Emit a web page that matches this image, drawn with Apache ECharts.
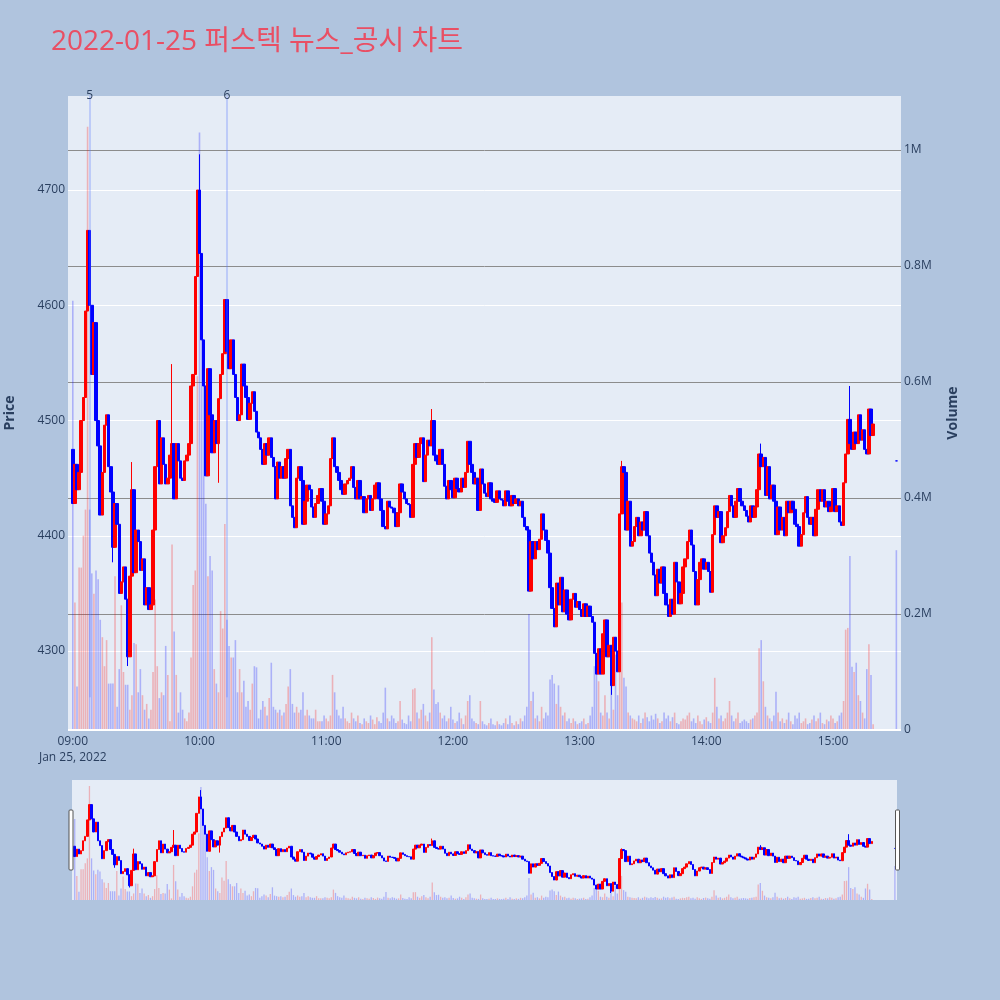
<!DOCTYPE html>
<html>
<head>
<meta charset="utf-8">
<script src="https://cdn.jsdelivr.net/npm/echarts@6/dist/echarts.min.js"></script>
<style>
html,body{margin:0;padding:0;background:#b0c4de;}
#chart{width:1000px;height:1000px;}
</style>
</head>
<body>
<div id="chart"></div>
<script>
// ---------------- data ----------------
const titleText = '2022-01-25 퍼스텍 뉴스_공시 차트';
const dateLabel = 'Jan 25, 2022';
const startHour = 9;                       // minute 0 = 09:00
const hourTicks = [0, 60, 120, 180, 240, 300, 360];
const firstOpen = 4475;
// one close per minute, 09:00 .. 15:19
const closes = [
4428,4462,4440,4455,4500,4520,4595,4665,4600,4540,
4585,4500,4478,4418,4455,4496,4505,4460,4438,4390,
4428,4410,4350,4360,4373,4345,4295,4365,4440,4368,
4405,4395,4370,4380,4340,4355,4336,4340,4405,4460,
4500,4445,4485,4462,4445,4450,4470,4480,4432,4480,
4465,4450,4448,4465,4470,4480,4530,4540,4625,4700,
4645,4570,4530,4452,4545,4505,4472,4500,4480,4519,
4540,4558,4605,4560,4545,4570,4540,4520,4500,4505,
4549,4530,4520,4501,4515,4525,4508,4490,4485,4475,
4462,4480,4470,4485,4468,4460,4432,4464,4450,4460,
4450,4467,4475,4426,4416,4407,4450,4460,4448,4410,
4430,4444,4440,4425,4416,4428,4435,4441,4430,4410,
4419,4426,4467,4485,4460,4455,4448,4440,4436,4445,
4448,4450,4460,4442,4432,4448,4432,4434,4420,4432,
4435,4422,4432,4444,4446,4432,4422,4408,4406,4430,
4425,4424,4420,4408,4420,4445,4438,4432,4428,4427,
4416,4462,4480,4468,4480,4485,4447,4470,4483,4478,
4500,4470,4465,4462,4475,4462,4443,4432,4448,4440,
4433,4450,4441,4438,4450,4442,4455,4482,4462,4455,
4445,4450,4422,4458,4445,4437,4434,4446,4432,4430,
4429,4439,4432,4431,4426,4439,4430,4426,4435,4428,
4432,4426,4430,4416,4408,4405,4352,4395,4380,4395,
4388,4397,4419,4405,4396,4385,4355,4337,4321,4359,
4340,4364,4334,4353,4332,4327,4345,4350,4338,4343,
4336,4330,4341,4330,4339,4330,4325,4298,4280,4302,
4280,4315,4327,4295,4305,4270,4312,4300,4282,4419,
4460,4455,4405,4430,4391,4395,4408,4416,4400,4412,
4405,4421,4400,4385,4377,4366,4348,4371,4359,4373,
4350,4340,4330,4345,4332,4377,4360,4341,4350,4373,
4380,4395,4405,4392,4369,4340,4362,4377,4380,4371,
4377,4369,4351,4401,4426,4416,4421,4394,4400,4407,
4421,4435,4426,4416,4430,4441,4430,4426,4422,4417,
4412,4426,4416,4425,4440,4471,4460,4468,4435,4460,
4432,4444,4430,4401,4425,4405,4416,4400,4430,4420,
4430,4423,4410,4408,4391,4401,4420,4434,4416,4410,
4416,4400,4423,4440,4430,4440,4425,4430,4421,4425,
4441,4421,4426,4412,4409,4446,4471,4501,4480,4475,
4490,4480,4505,4483,4492,4475,4471,4510,4487,4497
];
// volume per minute, thousands of shares
const volumesK = [
740,220,75,280,280,335,380,1040,380,270,
235,275,260,190,160,110,155,80,80,80,
265,40,105,215,100,78,78,35,60,150,
148,65,105,60,35,45,20,35,100,225,
110,55,65,60,145,95,15,320,170,95,
30,65,35,20,15,30,125,250,275,610,
1030,790,640,390,265,300,275,105,80,65,
205,175,355,190,145,125,125,155,65,105,
65,85,40,50,35,80,110,108,20,35,
50,40,25,55,116,40,35,30,35,25,
30,45,75,105,45,30,40,30,35,65,
25,35,25,20,20,35,15,15,15,25,
20,15,25,95,65,35,25,20,40,20,
15,12,30,20,15,25,12,10,20,15,
12,25,18,10,22,15,12,30,73,20,
15,25,20,12,15,50,18,12,10,25,
15,70,72,30,20,35,45,25,15,30,
160,70,45,48,30,20,25,15,20,40,
18,12,15,30,20,10,25,50,60,20,
15,12,10,50,15,10,8,12,20,10,
8,15,10,8,12,20,10,25,12,8,
15,10,20,15,25,40,200,50,66,20,
25,15,40,20,30,25,87,95,80,45,
77,40,25,30,15,20,12,20,15,10,
12,15,20,10,12,25,40,110,123,84,
30,25,60,30,20,77,35,130,60,200,
220,90,75,30,25,20,18,15,25,12,
20,30,22,15,25,18,28,20,12,15,
30,20,25,15,22,30,12,10,15,20,
18,25,30,15,20,12,25,15,10,18,
22,15,12,30,90,40,20,25,15,20,
30,50,25,15,20,30,12,15,18,15,
12,18,20,25,30,141,155,84,40,25,
20,15,25,66,30,15,20,12,18,30,
15,10,25,20,30,12,15,20,10,12,
18,25,15,20,30,12,10,18,15,25,
20,12,15,25,30,50,173,176,300,109,
100,116,60,50,30,20,105,148,95,10
];
// closing auction print at 15:30
const auctionMinute = 390;
const auctionPrice = 4465;
const auctionVolumeK = 310;
// wick extremes beyond the body [minute, price]
const wickHighs = [[28,4464],[47,4549],[60,4731],[170,4510],[260,4465],[326,4480],[368,4530]];
const wickLows  = [[19,4377],[26,4287],[69,4446],[255,4262]];
// news/disclosure markers
const eventMinutes = [8, 73];
const eventLabels  = ['5', '6'];
const eventLineBottom = 4260;

// ---------------- build ----------------
const UP = '#ff0000', DN = '#0000ff';
const UPV = 'rgba(255,0,0,0.25)', DNV = 'rgba(0,0,255,0.25)';
const FONT = '"Open Sans", "Noto Sans CJK KR", sans-serif';
const hiMap = {}, loMap = {};
wickHighs.forEach(w => hiMap[w[0]] = w[1]);
wickLows.forEach(w => loMap[w[0]] = w[1]);

const candles = [], vols = [];
closes.forEach((c, i) => {
  const o = i === 0 ? firstOpen : closes[i - 1];
  let hi = Math.max(o, c), lo = Math.min(o, c);
  if (hiMap[i] != null) hi = Math.max(hi, hiMap[i]);
  if (loMap[i] != null) lo = Math.min(lo, loMap[i]);
  candles.push([i, o, c, lo, hi]);
  vols.push({ value: [i, volumesK[i] * 1000], itemStyle: { color: c >= o ? UPV : DNV } });
});
candles.push([auctionMinute, auctionPrice, auctionPrice, auctionPrice, auctionPrice]);
vols.push({ value: [auctionMinute, auctionVolumeK * 1000], itemStyle: { color: DNV } });

const PMIN = 4231.5, PMAX = 4781.6, VMAX = 1093100;

function fmtTime(v) {
  const h = startHour + Math.floor(v / 60), m = Math.round(v % 60);
  let s = String(h).padStart(2, '0') + ':' + String(m).padStart(2, '0');
  if (v === 0) s += '\n' + dateLabel;
  return s;
}

const candleStyle = { color: UP, color0: DN, borderColor: UP, borderColor0: DN, borderWidth: 1 };

const option = {
  backgroundColor: '#b0c4de',
  animation: false,
  textStyle: { fontFamily: FONT },
  title: {
    text: titleText, left: 46, top: 23,
    textStyle: { color: '#e94f64', fontSize: 28, fontWeight: 'normal', fontFamily: FONT }
  },
  grid: [
    { left: 68, right: 99, top: 96, bottom: 270, show: true, backgroundColor: '#e5ecf6', borderWidth: 0,
      containLabel: false, outerBoundsMode: 'none' },
    { left: 72, right: 103, top: 780, height: 120, show: true, backgroundColor: '#e5ecf6', borderWidth: 0,
      containLabel: false, outerBoundsMode: 'none' }
  ],
  xAxis: [
    {
      type: 'value', gridIndex: 0, min: -2.27, max: 392.2,
      axisLine: { show: false }, axisTick: { show: false }, splitLine: { show: false },
      axisLabel: { customValues: hourTicks, formatter: fmtTime, color: '#2a3f5f', fontSize: 12,
                   margin: 4, lineHeight: 16, fontFamily: FONT }
    },
    { type: 'value', gridIndex: 1, min: -1.3, max: 391, show: false }
  ],
  yAxis: [
    {
      type: 'value', gridIndex: 0, position: 'left', min: PMIN, max: PMAX, splitNumber: 5,
      name: 'Price', nameLocation: 'middle', nameGap: 51,
      nameTextStyle: { color: '#2a3f5f', fontSize: 14, fontWeight: 'bold', fontFamily: FONT },
      axisLine: { show: false }, axisTick: { show: false },
      axisLabel: { color: '#2a3f5f', fontSize: 12, margin: 3, showMinLabel: false, showMaxLabel: false,
                   fontFamily: FONT, formatter: v => String(v) },
      splitLine: { show: true, showMinLine: false, showMaxLine: false, lineStyle: { color: '#ffffff', width: 1 } }
    },
    {
      type: 'value', gridIndex: 0, position: 'right', min: 0, max: VMAX, splitNumber: 5,
      name: 'Volume', nameLocation: 'middle', nameGap: 45,
      nameTextStyle: { color: '#2a3f5f', fontSize: 14, fontWeight: 'bold', fontFamily: FONT },
      axisLine: { show: false }, axisTick: { show: false },
      axisLabel: { color: '#2a3f5f', fontSize: 12, margin: 3, showMaxLabel: false, fontFamily: FONT,
                   formatter: v => v === 0 ? '0' : (Math.round(v / 1e5) / 10) + 'M' },
      splitLine: { show: true, showMinLine: false, showMaxLine: false, lineStyle: { color: '#8c8c8c', width: 1 } }
    },
    { type: 'value', gridIndex: 1, min: 4230, max: 4777, show: false },
    { type: 'value', gridIndex: 1, min: 0, max: 1095000, show: false }
  ],
  series: [
    {
      type: 'bar', name: 'vol', xAxisIndex: 0, yAxisIndex: 1, data: vols, barWidth: 1.6, z: 1,
      silent: true,
      markLine: { silent: true, symbol: ['none', 'none'], label: { show: false },
                  lineStyle: { color: '#ffffff', width: 2, type: 'solid' }, data: [{ yAxis: 0 }] }
    },
    {
      type: 'candlestick', name: 'price', xAxisIndex: 0, yAxisIndex: 0, data: candles,
      barWidth: 3, itemStyle: candleStyle, z: 3, silent: true,
      markLine: {
        silent: true, symbol: ['none', 'none'], label: { show: false },
        lineStyle: { color: 'rgba(90,120,255,0.38)', width: 1.5, type: 'solid' },
        data: eventMinutes.map(m => [{ coord: [m, eventLineBottom] }, { coord: [m, PMAX] }])
      },
      markPoint: {
        silent: true, symbol: 'circle', symbolSize: 0,
        label: { show: true, position: 'inside', color: '#2a3f5f', fontSize: 12, fontFamily: FONT,
                 formatter: p => p.name },
        data: eventMinutes.map((m, i) => ({ name: eventLabels[i], coord: [m, PMAX] }))
      }
    },
    {
      type: 'bar', name: 'vol-mini', xAxisIndex: 1, yAxisIndex: 3, data: vols, barWidth: 1.3, z: 1, silent: true
    },
    {
      type: 'candlestick', name: 'price-mini', xAxisIndex: 1, yAxisIndex: 2, data: candles,
      barWidth: 2, itemStyle: candleStyle, z: 3, silent: true
    }
  ],
  graphic: [
    { type: 'rect', shape: { x: 69, y: 810, width: 4, height: 60, r: 1 },
      style: { fill: '#ffffff', stroke: '#555555', lineWidth: 1 }, z: 100 },
    { type: 'rect', shape: { x: 895.5, y: 810, width: 4, height: 60, r: 1 },
      style: { fill: '#ffffff', stroke: '#555555', lineWidth: 1 }, z: 100 }
  ]
};

const chart = echarts.init(document.getElementById('chart'), null, { renderer: 'canvas' });
chart.setOption(option);
</script>
</body>
</html>
